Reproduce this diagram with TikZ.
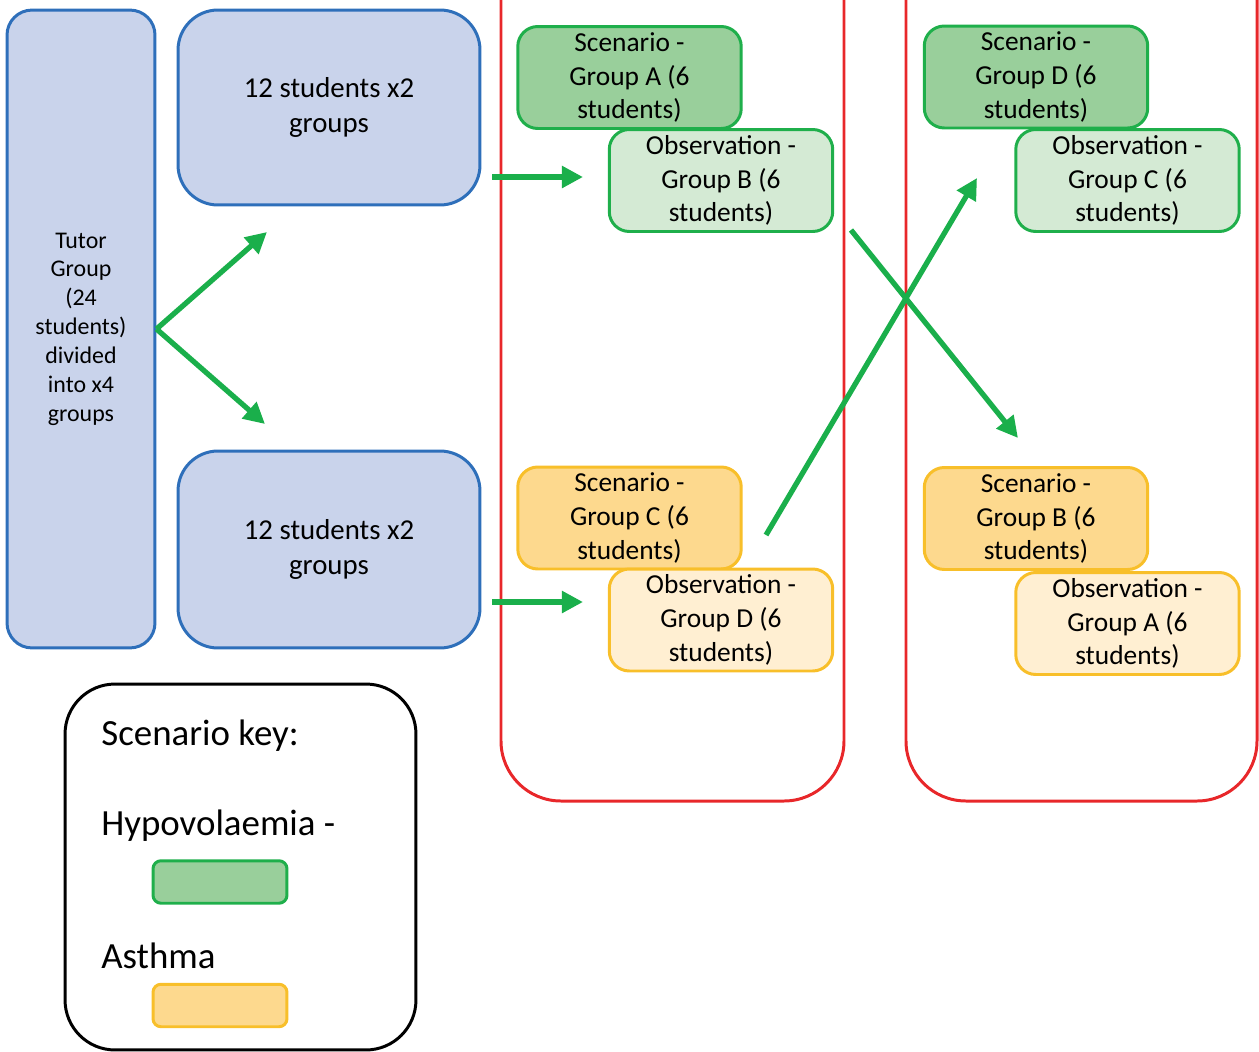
\documentclass[tikz,border=0pt]{standalone}
\usepackage{fontspec}
\setmainfont{Carlito}
\usetikzlibrary{arrows.meta}
\definecolor{cBlueB}{HTML}{2E6FBA}
\definecolor{cBlueF}{HTML}{C9D3EB}
\definecolor{cGreenB}{HTML}{1FAF4B}
\definecolor{cGreenS}{HTML}{99CF9B}
\definecolor{cGreenO}{HTML}{D4EAD4}
\definecolor{cOrangeB}{HTML}{F8BF2A}
\definecolor{cOrangeS}{HTML}{FDD98E}
\definecolor{cOrangeO}{HTML}{FFEFD2}
\definecolor{cRed}{HTML}{E8272A}
\definecolor{cArrow}{HTML}{1AAF4B}
\begin{document}
\begin{tikzpicture}[x=0.02cm,y=-0.02cm,
  bluebox/.style={draw=cBlueB, fill=cBlueF, line width=1.7pt, align=center, inner sep=0pt},
  scen/.style={line width=1.7pt, rounded corners=0.4cm, minimum width=4.47cm, minimum height=2.04cm,
    align=center, inner sep=0pt, font=\fontsize{15.6}{19.2}\selectfont},
  scengreen/.style={scen, draw=cGreenB, fill=cGreenS},
  obsgreen/.style={scen, draw=cGreenB, fill=cGreenO},
  scenorange/.style={scen, draw=cOrangeB, fill=cOrangeS},
  obsorange/.style={scen, draw=cOrangeB, fill=cOrangeO},
  frame/.style={draw=cRed, line width=1.7pt, rounded corners=1.2cm},
  arr/.style={draw=cArrow, line width=3pt, -{Triangle[length=12pt,width=12pt]}},
  keytext/.style={anchor=base west, inner sep=0pt, font=\fontsize{21}{25}\selectfont},
  swatch/.style={line width=1.7pt, rounded corners=0.16cm, minimum width=2.68cm, minimum height=0.85cm, inner sep=0pt}
]
\useasboundingbox (0,0) rectangle (1259,1052);

% red frames (open at the top)
\draw[frame] (501,-10) -- (501,801) -- (844,801) -- (844,-10);
\draw[frame] (906,-10) -- (906,801) -- (1257,801) -- (1257,-10);

% blue boxes
\node[bluebox, rounded corners=0.5cm, minimum width=2.96cm, minimum height=12.76cm,
  font=\fontsize{13.6}{16.4}\selectfont] (tutor) at (81,329)
  {Tutor\\Group\\(24\\students)\\divided\\into x4\\groups};
\node[bluebox, rounded corners=0.8cm, minimum width=6.04cm, minimum height=3.9cm,
  font=\fontsize{16.4}{19.8}\selectfont] (g1) at (329,107.5) {12 students x2\\groups};
\node[bluebox, rounded corners=0.8cm, minimum width=6.04cm, minimum height=3.94cm,
  font=\fontsize{16.4}{19.8}\selectfont] (g2) at (329,549.5) {12 students x2\\groups};

% scenario / observation boxes
\node[scengreen] (sA) at (629.5,77.5) {Scenario -\\Group A (6\\students)};
\node[obsgreen] (oB) at (721,180.5) {Observation -\\Group B (6\\students)};
\node[scengreen] (sD) at (1036,77) {Scenario -\\Group D (6\\students)};
\node[obsgreen] (oC) at (1127.5,180.5) {Observation -\\Group C (6\\students)};
\node[scenorange] (sC) at (629.5,518) {Scenario -\\Group C (6\\students)};
\node[obsorange] (oD) at (721,620) {Observation -\\Group D (6\\students)};
\node[scenorange] (sB) at (1036,518.5) {Scenario -\\Group B (6\\students)};
\node[obsorange] (oA) at (1127.5,623.5) {Observation -\\Group A (6\\students)};

% arrows
\coordinate (t1) at (267,232);
\coordinate (t2) at (265,424);
\coordinate (r1s) at (492,177);
\coordinate (r1e) at (583,177);
\coordinate (r2s) at (492,602);
\coordinate (r2e) at (583,602);
\coordinate (c1s) at (766,535);
\coordinate (c1e) at (977,178);
\coordinate (c2s) at (851,230);
\coordinate (c2e) at (1018,438);
\draw[arr] (tutor.east) -- (t1);
\draw[arr] (tutor.east) -- (t2);
\draw[arr] (r1s) -- (r1e);
\draw[arr] (r2s) -- (r2e);
\draw[arr] (c1s) -- (c1e);
\draw[arr] (c2s) -- (c2e);

% key
\node[draw=black, line width=1.7pt, rounded corners=1cm, minimum width=7.02cm, minimum height=7.32cm] (key) at (240.5,867) {};
\node[keytext] (k1) at (101,745) {Scenario key:};
\node[keytext] (k2) at (101,835) {Hypovolaemia -};
\node[swatch, draw=cGreenB, fill=cGreenS] (sw1) at (220,882) {};
\node[keytext] (k3) at (101,968) {Asthma};
\node[swatch, draw=cOrangeB, fill=cOrangeS] (sw2) at (220,1005.5) {};
\end{tikzpicture}
\end{document}
